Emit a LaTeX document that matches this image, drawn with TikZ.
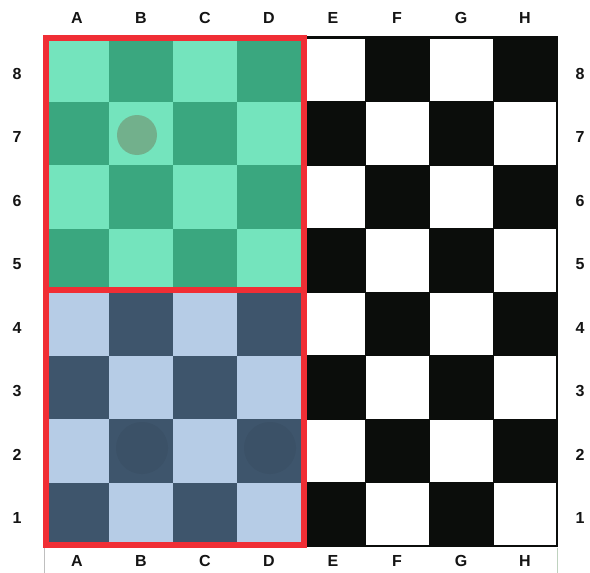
\documentclass[tikz,border=0pt]{standalone}
\usepackage{fontspec}
\setmainfont{Liberation Sans}
\definecolor{lgreen}{HTML}{74E4BD}
\definecolor{dgreen}{HTML}{3AA77F}
\definecolor{pawn}{HTML}{72B08C}
\definecolor{lblue}{HTML}{B6CCE6}
\definecolor{dblue}{HTML}{3E556C}
\definecolor{dpiece}{HTML}{3B5167}
\definecolor{boardblack}{HTML}{0B0D0B}
\definecolor{redline}{HTML}{F02E35}
\tikzset{
  lbl/.style={font=\bfseries\fontsize{16}{16}\selectfont, text=black!92},
}
\begin{document}
\begin{tikzpicture}[x=1pt,y=-1pt]
\useasboundingbox (0,0) rectangle (590,573);
\fill[white] (0,0) rectangle (590,573);
\def\sx{64}\def\sy{63.5}\def\ox{45}\def\oy{38}
% squares
\foreach \c in {1,...,8}{
  \foreach \r in {1,...,8}{
    \pgfmathtruncatemacro{\parity}{mod(\c+\r,2)}
    \pgfmathsetmacro{\xa}{\ox+(\c-1)*\sx}
    \pgfmathsetmacro{\ya}{\oy+(8-\r)*\sy}
    \ifnum\c<5
      \ifnum\r>4
        \ifnum\parity=0 \def\col{dgreen}\else\def\col{lgreen}\fi
      \else
        \ifnum\parity=0 \def\col{dblue}\else\def\col{lblue}\fi
      \fi
      \fill[\col] (\xa,\ya) rectangle ++(\sx,\sy);
    \else
      \ifnum\parity=0 \def\col{boardblack}\else\def\col{white}\fi
      \filldraw[fill=\col, draw=boardblack, line width=1pt] (\xa,\ya) rectangle ++(\sx,\sy);
    \fi
  }
}
% board outline right part
\draw[boardblack, line width=1.5pt] (304,37) -- (557,37) -- (557,546) -- (304,546);
% thin lines below board
\draw[black!25, line width=0.6pt] (44,548) -- (44,573);
\draw[green!30!black!25, line width=0.6pt] (557,548) -- (557,573);
% pieces
\fill[pawn] (137,135) circle (20);
\fill[dpiece] (142,448) circle (26);
\fill[dpiece] (270,448) circle (26);
% red frames
\draw[redline, line width=6.5pt] (46,38) rectangle (304,290);
\draw[redline, line width=6.5pt] (46,290) rectangle (304,545);
% labels
\foreach \l [count=\i] in {A,B,C,D,E,F,G,H}{
  \pgfmathsetmacro{\xc}{\ox+(\i-0.5)*\sx}
  \node[lbl] (top\l) at (\xc,18) {\l};
  \node[lbl] (bot\l) at (\xc,561) {\l};
}
\foreach \n [count=\i] in {8,7,6,5,4,3,2,1}{
  \pgfmathsetmacro{\yc}{\oy+(\i-0.5)*\sy+4}
  \node[lbl] (left\n) at (17,\yc) {\n};
  \node[lbl] (right\n) at (580,\yc) {\n};
}
\end{tikzpicture}
\end{document}
